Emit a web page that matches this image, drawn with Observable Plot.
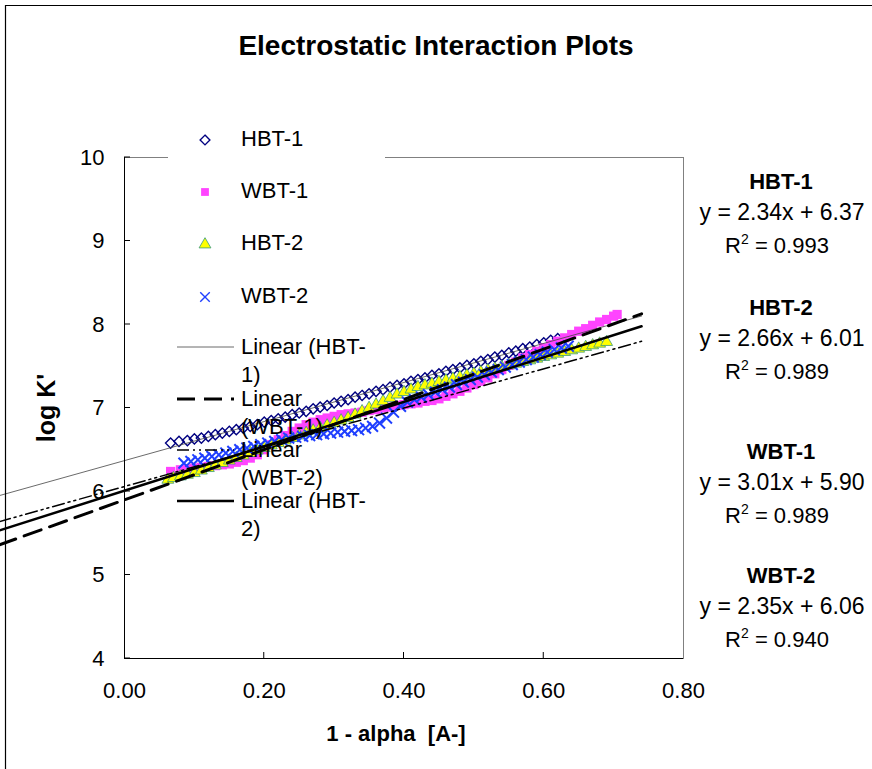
<!DOCTYPE html>
<html><head><meta charset="utf-8">
<script src="https://cdn.jsdelivr.net/npm/d3@7"></script>
<script src="https://cdn.jsdelivr.net/npm/@observablehq/plot@0.6"></script>
<style>
html,body{margin:0;padding:0;background:#fff;}
#chart{position:relative;width:872px;height:769px;overflow:hidden;}
</style></head>
<body><div id="chart"></div>
<script>
// ---------- data ----------
const xTicks = [0, 0.2, 0.4, 0.6, 0.8];
const yTicks = [4, 5, 6, 7, 8, 9, 10];

const hbt1X = [0.066,0.078,0.09,0.10,0.11,0.12,0.13,0.14,0.15,0.16,0.17,0.18,0.19,0.20,0.21,0.22,0.23,0.24,0.25,0.26,0.27,0.28,0.29,0.30,0.31,0.32,0.33,0.34,0.35,0.36,0.37,0.38,0.39,0.40,0.41,0.42,0.43,0.44,0.45,0.46,0.47,0.48,0.49,0.50,0.51,0.52,0.53,0.54,0.55,0.56,0.57,0.58,0.59,0.60,0.61,0.62];
const hbt1Y = [6.58,6.60,6.61,6.63,6.64,6.66,6.68,6.70,6.72,6.74,6.76,6.78,6.80,6.83,6.85,6.87,6.89,6.92,6.94,6.96,6.99,7.01,7.03,7.06,7.08,7.10,7.13,7.15,7.17,7.20,7.22,7.25,7.27,7.29,7.32,7.34,7.36,7.39,7.41,7.44,7.46,7.48,7.51,7.53,7.56,7.58,7.61,7.63,7.66,7.68,7.71,7.73,7.76,7.78,7.81,7.83];

const wbt1X = [0.066,0.08,0.09,0.10,0.11,0.12,0.13,0.14,0.15,0.16,0.17,0.18,0.19,0.20,0.21,0.22,0.23,0.24,0.25,0.26,0.27,0.28,0.29,0.30,0.31,0.32,0.33,0.34,0.35,0.36,0.37,0.38,0.39,0.40,0.41,0.42,0.43,0.44,0.45,0.46,0.47,0.48,0.49,0.50,0.51,0.52,0.53,0.54,0.55,0.56,0.57,0.58,0.59,0.60,0.61,0.62,0.63,0.64,0.65,0.66,0.67,0.68,0.69,0.70,0.705];
const wbt1Y = [6.24,6.26,6.27,6.28,6.29,6.30,6.31,6.32,6.33,6.35,6.37,6.40,6.44,6.50,6.56,6.62,6.67,6.72,6.76,6.80,6.83,6.86,6.88,6.90,6.92,6.93,6.94,6.95,6.97,6.98,7.00,7.01,7.03,7.04,7.05,7.06,7.08,7.09,7.11,7.14,7.17,7.20,7.24,7.28,7.32,7.36,7.41,7.46,7.51,7.55,7.60,7.64,7.68,7.72,7.76,7.80,7.84,7.88,7.92,7.95,7.99,8.03,8.06,8.10,8.12];

const hbt2X = [0.062,0.07,0.08,0.09,0.10,0.11,0.12,0.13,0.14,0.15,0.16,0.17,0.18,0.19,0.20,0.21,0.22,0.23,0.24,0.25,0.26,0.27,0.28,0.29,0.30,0.31,0.32,0.33,0.34,0.35,0.36,0.37,0.38,0.39,0.40,0.41,0.42,0.43,0.44,0.45,0.46,0.47,0.48,0.49,0.50,0.51,0.52,0.53,0.54,0.55,0.56,0.57,0.58,0.59,0.60,0.61,0.62,0.63,0.64,0.65,0.66,0.67,0.68,0.69];
const hbt2Y = [6.14,6.16,6.18,6.20,6.22,6.25,6.28,6.31,6.34,6.37,6.40,6.43,6.46,6.49,6.52,6.55,6.58,6.61,6.64,6.67,6.70,6.73,6.76,6.79,6.82,6.85,6.88,6.92,6.96,7.00,7.04,7.08,7.12,7.16,7.19,7.22,7.25,7.27,7.29,7.31,7.33,7.35,7.37,7.39,7.41,7.43,7.45,7.47,7.49,7.51,7.53,7.55,7.57,7.59,7.61,7.63,7.65,7.67,7.69,7.71,7.73,7.75,7.77,7.79];

const wbt2X = [0.085,0.095,0.105,0.115,0.125,0.135,0.145,0.155,0.165,0.175,0.185,0.195,0.205,0.215,0.225,0.235,0.245,0.255,0.265,0.275,0.285,0.295,0.305,0.315,0.325,0.335,0.345,0.355,0.365,0.375,0.385,0.395,0.405,0.415,0.425,0.435,0.445,0.455,0.465,0.475,0.485,0.495,0.505,0.515,0.525,0.535,0.545,0.555,0.565,0.575,0.585,0.595,0.605,0.615,0.625,0.635];
const wbt2Y = [6.34,6.36,6.38,6.40,6.42,6.44,6.46,6.48,6.50,6.52,6.54,6.56,6.58,6.60,6.62,6.64,6.65,6.66,6.67,6.68,6.69,6.70,6.71,6.72,6.73,6.74,6.76,6.78,6.82,6.88,6.95,7.02,7.07,7.10,7.13,7.16,7.19,7.22,7.25,7.28,7.31,7.34,7.37,7.40,7.43,7.46,7.49,7.52,7.55,7.58,7.61,7.64,7.67,7.70,7.72,7.74];

// trendline equations shown on the chart (annotation order)
const trendSeries = ["HBT-1", "HBT-2", "WBT-1", "WBT-2"];
const trendSlope = [2.34, 2.66, 3.01, 2.35];
const trendIntercept = [6.37, 6.01, 5.90, 6.06];
const trendR2 = ["0.993", "0.989", "0.989", "0.940"];
const trendXRange = [-0.18, 0.74];

const legendSeries = ["HBT-1", "WBT-1", "HBT-2", "WBT-2"];
const legendTrends = ["HBT-1", "WBT-1", "WBT-2", "HBT-2"];

// ---------- tables ----------
const zip = (xs, ys) => xs.map((x, i) => ({x, y: ys[i]}));
const hbt1 = zip(hbt1X, hbt1Y), wbt1 = zip(wbt1X, wbt1Y), hbt2 = zip(hbt2X, hbt2Y), wbt2 = zip(wbt2X, wbt2Y);
const trend = name => {
  const i = trendSeries.indexOf(name);
  return trendXRange.map(x => ({x, y: trendSlope[i] * x + trendIntercept[i]}));
};

const FONT = "'Liberation Sans', Arial, Helvetica, sans-serif";
const sym = {
  "HBT-1": {symbol: "diamond2", r: 4.6, fill: "none", stroke: "#000080", strokeWidth: 1.4},
  "WBT-1": {symbol: "square", r: 5.2, fill: "#ff44ff", stroke: "none", strokeWidth: 0},
  "HBT-2": {symbol: "triangle", r: 4.4, fill: "#ffff00", stroke: "#3a9a7a", strokeWidth: 0.8},
  "WBT-2": {symbol: "times", r: 5, fill: "none", stroke: "#1f3fff", strokeWidth: 2}
};
const lineStyle = {
  "HBT-1": {stroke: "#444", strokeWidth: 0.8},
  "WBT-1": {stroke: "black", strokeWidth: 3, strokeDasharray: "18,9"},
  "WBT-2": {stroke: "black", strokeWidth: 1.5, strokeDasharray: "12,4,2,4,2,4"},
  "HBT-2": {stroke: "black", strokeWidth: 2.5}
};

const svgEl = Plot.plot({
  width: 872, height: 769,
  marginLeft: 124, marginRight: 189, marginTop: 157, marginBottom: 111,
  style: {fontFamily: FONT, fontSize: "22px", color: "black", background: "white", overflow: "visible"},
  x: {domain: [0, 0.8]},
  y: {domain: [4, 10]},
  marks: [
    Plot.frame({stroke: "#808080"}),
    Plot.dot(hbt1, {x: "x", y: "y", ...sym["HBT-1"]}),
    Plot.dot(wbt1, {x: "x", y: "y", ...sym["WBT-1"]}),
    Plot.dot(hbt2, {x: "x", y: "y", ...sym["HBT-2"]}),
    Plot.dot(wbt2, {x: "x", y: "y", ...sym["WBT-2"]}),
    Plot.line(trend("HBT-1"), {x: "x", y: "y", ...lineStyle["HBT-1"]}),
    Plot.line(trend("WBT-1"), {x: "x", y: "y", ...lineStyle["WBT-1"]}),
    Plot.line(trend("WBT-2"), {x: "x", y: "y", ...lineStyle["WBT-2"]}),
    Plot.line(trend("HBT-2"), {x: "x", y: "y", ...lineStyle["HBT-2"]}),
    Plot.ruleX([0], {stroke: "black"}),
    Plot.ruleY([4], {stroke: "black"}),
    Plot.axisX({ticks: xTicks, tickFormat: d3.format(".2f"), tickSize: 0, tickPadding: 24, label: null}),
    Plot.axisY({ticks: yTicks, tickFormat: d3.format("d"), tickSize: 0, tickPadding: 20, label: null})
  ]
});
document.getElementById("chart").appendChild(svgEl);

const sx = svgEl.scale("x"), sy = svgEl.scale("y");
const svg = d3.select(svgEl);
const x0 = sx.apply(0), y0 = sy.apply(4), y1 = sy.apply(10);

// inward ticks
const tg = svg.append("g").attr("stroke", "black").attr("stroke-width", 1);
xTicks.slice(1, -1).forEach(t => tg.append("line").attr("x1", sx.apply(t)).attr("x2", sx.apply(t)).attr("y1", y0).attr("y2", y0 - 6));
yTicks.forEach(t => tg.append("line").attr("x1", x0).attr("x2", x0 + 6).attr("y1", sy.apply(t)).attr("y2", sy.apply(t)));

// legend background gap over the top border
svg.append("rect").attr("x", 168).attr("y", y1 - 3).attr("width", 217).attr("height", 6).attr("fill", "white");

// outer chart border (top and left)
svg.append("path").attr("d", "M5.5,769V5.5H872").attr("fill", "none").attr("stroke", "black").attr("stroke-width", 1.2);

const txt = (x, y, s, opts = {}) => svg.append("text").attr("x", x).attr("y", y).text(s)
  .attr("font-family", FONT).attr("font-size", opts.size || 22).attr("font-weight", opts.bold ? "bold" : null)
  .attr("text-anchor", opts.anchor || "start").attr("dominant-baseline", "central").attr("fill", "black")
  .style("white-space", "pre");

// title and axis titles
txt(436, 45, "Electrostatic Interaction Plots", {size: 28, bold: true, anchor: "middle"});
txt(396, 733, "1 - alpha  [A-]", {size: 22, bold: true, anchor: "middle"});
svg.append("text").attr("transform", "translate(46,408) rotate(-90)").text("log K'")
  .attr("font-family", FONT).attr("font-size", 25).attr("font-weight", "bold")
  .attr("text-anchor", "middle").attr("dominant-baseline", "central");

// legend: markers
const symMap = {diamond2: d3.symbolDiamond2, square: d3.symbolSquare, triangle: d3.symbolTriangle, times: d3.symbolTimes};
const legendMarkY = [140, 192, 244.5, 297];
legendSeries.forEach((name, i) => {
  const s = sym[name];
  const rr = Math.min(s.r, 4.4);
  svg.append("path").attr("transform", `translate(205,${legendMarkY[i]})`)
    .attr("d", d3.symbol(symMap[s.symbol], Math.PI * rr * rr)())
    .attr("fill", s.fill).attr("stroke", s.stroke).attr("stroke-width", Math.min(s.strokeWidth, 1.4));
  txt(241, legendMarkY[i] - 2, name);
});
// legend: trendlines
const legendLineY = [347, 399, 450, 501];
legendTrends.forEach((name, i) => {
  const st = lineStyle[name];
  svg.append("line").attr("x1", 177).attr("x2", 234).attr("y1", legendLineY[i]).attr("y2", legendLineY[i])
    .attr("stroke", st.stroke).attr("stroke-width", st.strokeWidth).attr("stroke-dasharray", st.strokeDasharray || null);
  const label = `Linear (${name})`;
  let a, b;
  if (name.startsWith("HBT")) { a = label.slice(0, label.length - 2); b = label.slice(label.length - 2); }
  else { a = "Linear"; b = label.slice(7); }
  txt(241, legendLineY[i] - 1, a);
  txt(241, legendLineY[i] + 27, b);
});

// equation annotations
const annY = [181, 307, 451, 575];
trendSeries.forEach((name, i) => {
  const y = annY[i];
  txt(781, y, name, {bold: true, anchor: "middle"});
  const sign = trendIntercept[i] >= 0 ? "+" : "-";
  txt(782, y + 31, `y = ${trendSlope[i].toFixed(2)}x ${sign} ${Math.abs(trendIntercept[i]).toFixed(2)}`, {size: 23, anchor: "middle"});
  const r = svg.append("text").attr("x", 777).attr("y", y + 72).attr("text-anchor", "middle")
    .attr("font-family", FONT).attr("font-size", 22).attr("fill", "black").style("white-space", "pre");
  r.append("tspan").text("R");
  r.append("tspan").text("2").attr("font-size", 14).attr("dy", -9);
  r.append("tspan").text(" = " + trendR2[i]).attr("dy", 9);
});
</script>
</body></html>
